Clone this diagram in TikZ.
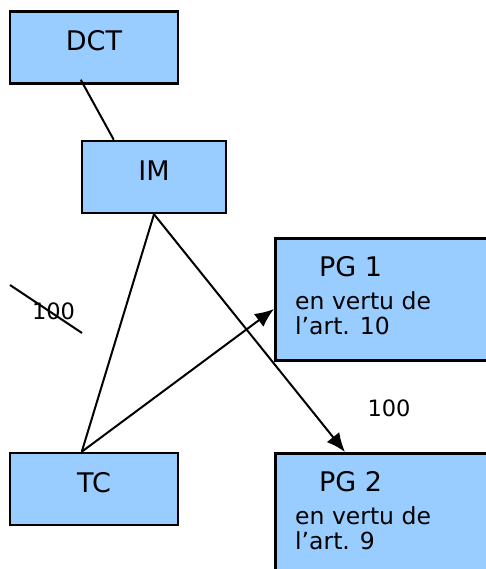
\documentclass[tikz,border=0pt]{standalone}
\usepackage{fontspec}
\setmainfont{DejaVu Sans}
\usetikzlibrary{arrows.meta}
\definecolor{boxblue}{HTML}{99CCFF}
\begin{document}
\begin{tikzpicture}[x=1pt, y=-1pt,
  box/.style={draw, line width=2.5pt, fill=boxblue, minimum height=72pt, inner sep=0pt, font=\fontsize{27}{30}\selectfont, text height=19pt, text depth=12pt},
  pgbox/.style={draw, line width=2.5pt, fill=boxblue, anchor=north west, minimum width=216pt, minimum height=122pt},
  link/.style={line width=2pt},
  arr/.style={line width=2pt, -{Latex[length=19pt, width=16pt]}}]
\useasboundingbox (0,0) rectangle (485,569);
% boxes
\node[box, minimum width=168pt] (dct) at (94,47.5) {DCT\hspace{10pt}};
\node[box, minimum width=144pt] (im) at (154,177) {IM\hspace{8pt}};
\node[box, minimum width=168pt] (tc) at (94,489) {TC\hspace{10pt}};
\foreach \n/\y/\art in {1/237/10, 2/452/9} {
  \node[pgbox] (pg\n) at (274,\y) {};
  \node[anchor=base west, inner sep=0pt, font=\fontsize{27}{30}\selectfont] (pg\n title) at (319,\y+39.5) {PG \n};
  \node[anchor=base west, inner sep=0pt, font=\fontsize{23.5}{26}\selectfont] (pg\n line1) at (295,\y+72) {en vertu de};
  \node[anchor=base west, inner sep=0pt, font=\fontsize{23.5}{26}\selectfont] (pg\n line2) at (295,\y+97.5) {l’art. \art};
}
% links
\coordinate (tctop) at ([xshift=73pt]tc.north west);
\draw[link] ([xshift=72pt, yshift=5pt]dct.south west) -- ([xshift=33pt]im.north west);
\draw[link] (im.south) -- (tctop);
\draw[arr] (im.south) -- ([xshift=71pt]pg2.north west);
\draw[arr] (tctop) -- ([yshift=-72pt]pg1.north west);
% quantities
\node[font=\fontsize{22.5}{26}\selectfont] (share1) at (53.5,311.5) {100};
\coordinate (strikeA) at (10,285);
\coordinate (strikeB) at (82,333);
\draw[link] (strikeA) -- (strikeB);
\node[font=\fontsize{22.5}{26}\selectfont] (share2) at (389,408) {100};
\end{tikzpicture}
\end{document}
